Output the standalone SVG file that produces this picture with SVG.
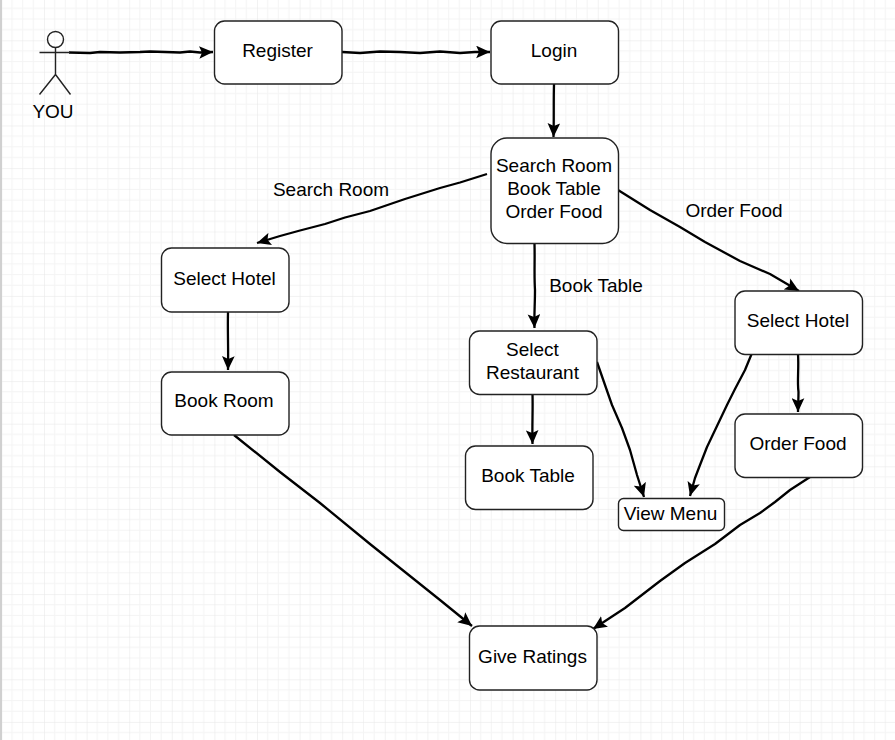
<svg xmlns="http://www.w3.org/2000/svg" width="895" height="740" viewBox="0 0 895 740">
<style>
text{font-family:"Liberation Sans",Arial,sans-serif;font-size:19px;fill:#000;text-anchor:middle}
.n{fill:#fff;stroke:#222;stroke-width:1.4}
.c{fill:none;stroke:#000;stroke-width:2.3;stroke-linejoin:round;marker-end:url(#a)}
.s{fill:none;stroke:#222;stroke-width:1.4}
</style>
<defs>
<marker id="a" markerUnits="userSpaceOnUse" markerWidth="15" markerHeight="13" refX="12" refY="5.500" orient="auto" viewBox="0 0 13 11"><path d="M0 0L12 5.500L0 11L2.500 5.500Z" fill="#000"/></marker>
<pattern id="g" patternUnits="userSpaceOnUse" x="1.4" y="-2.3" width="42.6" height="42.6">
<path d="M10.65 0V42.6M21.3 0V42.6M31.95 0V42.6M0 10.65H42.6M0 21.3H42.6M0 31.95H42.6" stroke="#f4f4f4" stroke-width="1" fill="none"/>
<path d="M0 0V42.6M0 0H42.6" stroke="#e6e6e6" stroke-width="1" fill="none"/>
</pattern>
</defs>
<rect width="895" height="740" fill="#fff"/>
<rect x="1" width="894" height="740" fill="url(#g)"/>
<rect x="0" width="2" height="740" fill="#d0d0d0"/>
<g id="connectors">
<path class="c" d="M69 52.500L90 53L100 52L120 52.500L140 52L150 51.500L165 52L180 52.500L190 51.500L200 52.500L213 52"/>
<path class="c" d="M342 52L360 53L380 51.500L400 52L420 53L440 51.500L460 53L475 52L490 52"/>
<path class="c" d="M554 84C553.500 100 554 120 553.500 137"/>
<path class="c" d="M487 174L460 182.500L440 188L405 199L370 211L345 217.500L325 224L300 230.500L280 236L257 243"/>
<path class="c" d="M534.500 244C535 260 534 275 535 290C535 305 534 315 534.500 328"/>
<path class="c" d="M618 190L650 210L680 227L705 242L740 261L770 274L799 291"/>
<path class="c" d="M228 312C227.500 330 228.500 350 228 370"/>
<path class="c" d="M532.500 394C533 410 532 425 532.500 444"/>
<path class="c" d="M597 362L605 385L612 405L622 428L630 450L637 475L644 497"/>
<path class="c" d="M752 353L745 370L735 389L727 405L717 426L707 447L700 465L695 478L690 496"/>
<path class="c" d="M798 354C799 370 797 380 798.500 392C798.500 400 798 405 798 412"/>
<path class="c" d="M234 435L280 472L320 503L370 544L400 568L440 600L472 626"/>
<path class="c" d="M810 477L790 490L775 502L760 513L740 525L715 544L685 563L660 581L625 608L593 629"/>
</g>
<g id="you">
<circle cx="55.500" cy="39.500" r="8" class="s"/>
<path class="s" d="M55.500 47.500V74.500M39.500 52.500H70M39.500 94.500L55.500 74.500L70.500 94.500"/>
<text x="53" y="117.500">YOU</text>
</g>
<g id="register"><rect class="n" x="214.500" y="21" width="127.500" height="63" rx="10"/><text x="277.500" y="57">Register</text></g>
<g id="login"><rect class="n" x="491" y="21" width="127.500" height="63" rx="10"/><text x="554" y="57">Login</text></g>
<g id="search"><rect class="n" x="491" y="138" width="127.500" height="105.500" rx="16"/><text x="554" y="172">Search Room</text><text x="554" y="195">Book Table</text><text x="554" y="218">Order Food</text></g>
<g id="select-hotel-1"><rect class="n" x="161.500" y="248" width="127.500" height="64" rx="10"/><text x="224.500" y="285">Select Hotel</text></g>
<g id="book-room"><rect class="n" x="161.500" y="372" width="127.500" height="63" rx="10"/><text x="224" y="407">Book Room</text></g>
<g id="select-restaurant"><rect class="n" x="469.500" y="331" width="127.500" height="63.500" rx="10"/><text x="532.500" y="356">Select</text><text x="532.500" y="379">Restaurant</text></g>
<g id="book-table"><rect class="n" x="465.500" y="446" width="127.500" height="63.500" rx="10"/><text x="528" y="482">Book Table</text></g>
<g id="select-hotel-2"><rect class="n" x="735" y="291" width="127.500" height="63.500" rx="10"/><text x="798" y="327">Select Hotel</text></g>
<g id="order-food"><rect class="n" x="735" y="414" width="127.500" height="63.500" rx="10"/><text x="798" y="450">Order Food</text></g>
<g id="view-menu"><rect class="n" x="618.500" y="498.500" width="106" height="32" rx="5"/><text x="670.500" y="520">View Menu</text></g>
<g id="give-ratings"><rect class="n" x="469.500" y="626" width="127.500" height="64" rx="10"/><text x="532.500" y="663">Give Ratings</text></g>
<g id="labels"><text x="331" y="196">Search Room</text><text x="596" y="292">Book Table</text><text x="734" y="217">Order Food</text></g>
</svg>
